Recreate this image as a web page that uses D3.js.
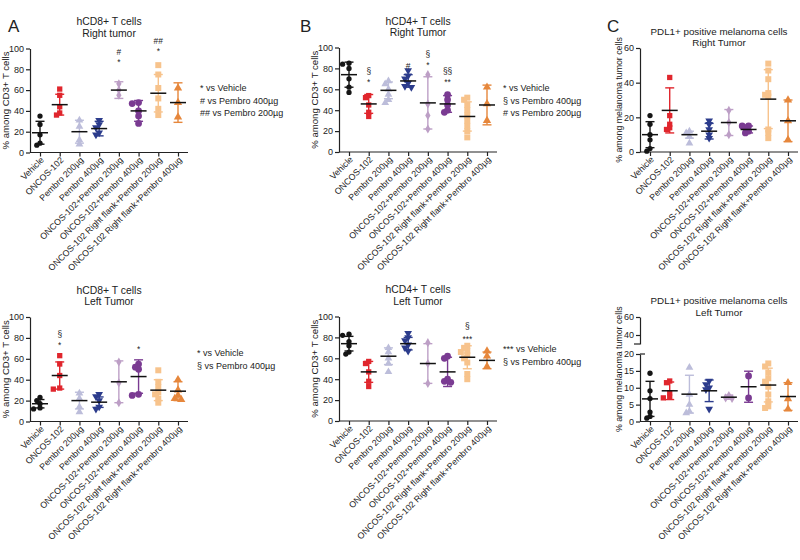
<!DOCTYPE html>
<html>
<head>
<meta charset="utf-8">
<script src="https://cdn.jsdelivr.net/npm/d3@7"></script>
<style>
  body { margin: 0; background: #fff; }
  text { font-family: "Liberation Sans", Arial, sans-serif; fill: #222; }
</style>
</head>
<body>
<svg id="fig" width="800" height="560"></svg>
<script>
// treatment groups, same order in every panel
var groups = ["Vehicle", "ONCOS-102", "Pembro 200µg", "Pembro 400µg",
  "ONCOS-102+Pembro 200µg", "ONCOS-102+Pembro 400µg",
  "ONCOS-102 Right flank+Pembro 200µg", "ONCOS-102 Right flank+Pembro 400µg"];

var groupColors = ["#151515", "#e0262d", "#bcbdda", "#2c3c8c", "#bd9fc6", "#7a3b92", "#f7c38c", "#e6873c"];

// hCD8+ right tumor
var cd8RightPts = [[35, 27, 17, 9, 7], [61, 55, 44, 38, 36], [31, 25, 12, 8], [31, 27, 24, 19, 17],
  [66, 60, 55], [48, 47, 40, 35, 28], [84, 75, 62, 52, 42, 36], [62, 48, 34]];
var cd8RightMean = [19, 46, 20, 23, 60, 40, 57, 48];
var cd8RightSd = [11, 10, 11, 7, 8, 10, 18, 19];
var cd8RightSig = [[4, "#", 97], [4, "*", 88.5], [6, "##", 108], [6, "*", 100]];
var cd8RightLegend = ["* vs Vehicle", "# vs Pembro 400µg", "## vs Pembro 200µg"];

// hCD8+ left tumor
var cd8LeftPts = [[23, 20, 17, 13, 12], [63, 55, 44, 32, 31], [27, 22, 14, 9], [26, 24, 20, 14, 12],
  [57, 37, 18], [55, 52, 50, 26, 25], [49, 38, 33, 28, 26, 22, 18], [40, 30, 25, 22, 21]];
var cd8LeftMean = [17, 44, 20, 18.5, 38, 43, 30, 29];
var cd8LeftSd = [4, 13, 8, 5, 20, 16, 10, 9];
var cd8LeftSig = [[1, "§", 84], [1, "*", 75], [5, "*", 71]];
var cd8LeftLegend = ["* vs Vehicle", "§ vs Pembro 400µg"];

// hCD4+ right tumor
var cd4RightPts = [[85, 84, 80, 70, 62, 57], [54, 52, 45, 38, 34], [68, 65, 60, 55, 50, 47],
  [78, 73, 70, 66, 63, 62], [74, 46, 35, 22], [55, 50, 45, 40, 38],
  [52, 50, 45, 40, 35, 30, 25, 20, 14], [62, 46, 30]];
var cd4RightMean = [74, 46, 59, 68, 47, 46, 34, 45];
var cd4RightSd = [12, 9, 8, 6, 25, 8, 14, 19];
var cd4RightSig = [[1, "§", 78], [1, "*", 69], [3, "#", 83], [4, "§", 94], [4, "*", 85], [5, "§§", 78], [5, "**", 69]];
var cd4RightLegend = ["* vs Vehicle", "§ vs Pembro 400µg", "# vs Pembro 200µg"];

// hCD4+ left tumor
var cd4LeftPts = [[83, 82, 76, 72, 66, 64], [57, 55, 47, 38, 33], [70, 66, 60, 55, 47],
  [84, 80, 77, 73, 70, 67], [75, 55, 36], [62, 60, 40, 38, 37],
  [72, 70, 67, 66, 63, 60, 56, 45, 40], [67, 62, 52]];
var cd4LeftMean = [74, 47, 62, 74, 55, 47, 61, 58];
var cd4LeftSd = [7, 10, 8, 6, 19, 14, 11, 8];
var cd4LeftSig = [[6, "§", 91], [6, "***", 80]];
var cd4LeftLegend = ["*** vs Vehicle", "§ vs Pembro 400µg"];

// PDL1+ melanoma cells right tumor
var pdlRightPts = [[21, 16, 10, 7, 2, 0.5], [43, 21, 16, 14, 13], [12, 11, 9, 5], [18, 16, 13, 10, 8],
  [24, 17, 10], [15, 15, 14, 12, 11], [51, 47, 42, 34, 33, 32, 13, 11, 8], [30, 18, 7]];
var pdlRightMean = [10, 24, 10, 12, 17, 13, 30.5, 18];
var pdlRightSd = [7.5, 13, 2, 4.5, 7.5, 2, 17, 12];

// PDL1+ melanoma cells left tumor
var pdlLeftPts = [[14.3, 9.1, 6.8, 2.8, 1.5, 1.0], [12, 11.5, 8.5, 7.2, 7], [16, 8, 5, 3, 2.5],
  [12, 11, 10, 9.5, 3.7], [7.7, 7, 6.8], [13.5, 7], [17.2, 16.3, 14.5, 12.8, 11.8, 10.3, 8, 6, 4.5, 4],
  [11.5, 6.7, 3.7]];
var pdlLeftMean = [6.7, 9.1, 8.1, 9.1, 7.2, 10.3, 10.8, 7.4];
var pdlLeftSd = [5.2, 2.6, 5.6, 3.2, 0.6, 4.6, 5, 4.1];

var cd3Ticks = [0, 20, 40, 60, 80, 100];
var pdlTicks = [0, 20, 40, 60];
var pdlLowTicks = [0, 5, 10, 15, 20];
var pdlHighTicks = [40, 60];

var shapes = [d3.symbolCircle, d3.symbolSquare, d3.symbolTriangle, d3.symbolTriangle,
  d3.symbolDiamond, d3.symbolCircle, d3.symbolSquare, d3.symbolTriangle];
var shapeSize = [22, 28, 26, 26, 24, 36, 36, 30];

var svg = d3.select("#fig");

var panels = [
  {x0: 30, yTop: 48.5, yBot: 152.5, max: 100, ticks: cd3Ticks, letter: "A", letterX: 8,
   title: ["hCD8+ T cells", "Right tumor"], titleY: 25, titleSize: 10.4, ylab: "% among CD3+ T cells", labOff: 21, labSize: 9.6,
   pts: cd8RightPts, mean: cd8RightMean, sd: cd8RightSd, sig: cd8RightSig,
   legend: cd8RightLegend, legX: 200, legY: 91},
  {x0: 30, yTop: 317, yBot: 421.5, max: 100, ticks: cd3Ticks,
   title: ["hCD8+ T cells", "Left Tumor"], titleY: 293.5, titleSize: 10.4, ylab: "% among CD3+ T cells", labOff: 21, labSize: 9.6,
   pts: cd8LeftPts, mean: cd8LeftMean, sd: cd8LeftSd, sig: cd8LeftSig,
   legend: cd8LeftLegend, legX: 197, legY: 356},
  {x0: 339, yTop: 47.5, yBot: 152, max: 100, ticks: cd3Ticks, letter: "B", letterX: 300,
   title: ["hCD4+ T cells", "Right Tumor"], titleY: 24.5, titleSize: 10.4, ylab: "% among CD3+ T cells", labOff: 21, labSize: 9.6,
   pts: cd4RightPts, mean: cd4RightMean, sd: cd4RightSd, sig: cd4RightSig,
   legend: cd4RightLegend, legX: 503, legY: 91},
  {x0: 339, yTop: 316.5, yBot: 421, max: 100, ticks: cd3Ticks,
   title: ["hCD4+ T cells", "Left Tumor"], titleY: 293, titleSize: 10.4, ylab: "% among CD3+ T cells", labOff: 21, labSize: 9.6,
   pts: cd4LeftPts, mean: cd4LeftMean, sd: cd4LeftSd, sig: cd4LeftSig,
   legend: cd4LeftLegend, legX: 503, legY: 352},
  {x0: 640, yTop: 48, yBot: 152, max: 60, ticks: pdlTicks, letter: "C", letterX: 607,
   title: ["PDL1+ positive melanoma cells", "Right Tumor"], titleY: 34.5, titleSize: 9.8, ylab: "% among melanoma tumor cells", labOff: 18, labSize: 8.8,
   pts: pdlRightPts, mean: pdlRightMean, sd: pdlRightSd, sig: [], legend: []},
  {x0: 640, yTop: 317, yBot: 421.5, max: 60, broken: true, letter: null,
   title: ["PDL1+ positive melanoma cells", "Left Tumor"], titleY: 304, titleSize: 9.8, ylab: "% among melanoma tumor cells", labOff: 18, labSize: 8.8,
   pts: pdlLeftPts, mean: pdlLeftMean, sd: pdlLeftSd, sig: [], legend: []}
];

function styleAxis(g) {
  g.selectAll("path, line").attr("stroke", "#222").attr("stroke-width", 1.2);
  g.selectAll("text").style("font-size", "9px").attr("fill", "#222");
}

// spread overlapping points sideways a little, GraphPad-like
function spread(vals, yf) {
  var placed = [];
  return vals.map(function(v) {
    var py = yf(v), offs = [0, -1, 1, -2, 2, -3, 3];
    for (var k = 0; k < offs.length; k++) {
      var dx = offs[k] * 3.2;
      var free = placed.every(function(q) { return Math.hypot(q[0] - dx, q[1] - py) >= 3.4; });
      if (free) { placed.push([dx, py]); return dx; }
    }
    placed.push([0, py]);
    return 0;
  });
}

function drawPanel(p) {
  var g = svg.append("g");
  var x = d3.scalePoint().domain(groups).range([p.x0 + 10, p.x0 + 148]);
  var y;

  if (!p.broken) {
    var ys = d3.scaleLinear().domain([0, p.max]).range([p.yBot, p.yTop]);
    y = ys;
    g.append("g")
      .attr("transform", "translate(" + p.x0 + ",0)")
      .call(d3.axisLeft(ys).tickValues(p.ticks).tickSize(4).tickSizeOuter(0).tickPadding(2))
      .call(styleAxis);
  } else {
    // broken axis: 0-20 below, 30-60 above
    var yLow = d3.scaleLinear().domain([0, 20]).range([p.yBot, 354]);
    var yHigh = d3.scaleLinear().domain([30, 60]).range([344, p.yTop]);
    y = function(v) { return v <= 20 ? yLow(v) : yHigh(v); };
    g.append("g")
      .attr("transform", "translate(" + p.x0 + ",0)")
      .call(d3.axisLeft(yLow).tickValues(pdlLowTicks).tickSize(4).tickSizeOuter(0).tickPadding(2))
      .call(styleAxis);
    g.append("g")
      .attr("transform", "translate(" + p.x0 + ",0)")
      .call(d3.axisLeft(yHigh).tickValues(pdlHighTicks).tickSize(4).tickSizeOuter(0).tickPadding(2))
      .call(styleAxis);
    g.append("line").attr("x1", p.x0 - 6).attr("x2", p.x0).attr("y1", 344).attr("y2", 344)
      .attr("stroke", "#222").attr("stroke-width", 1.2);
    g.append("line").attr("x1", p.x0).attr("x2", p.x0 + 5).attr("y1", 354).attr("y2", 354)
      .attr("stroke", "#222").attr("stroke-width", 1.2);
  }

  // x axis
  var xa = g.append("g")
    .attr("transform", "translate(0," + p.yBot + ")")
    .call(d3.axisBottom(x).tickSize(4).tickSizeOuter(0));
  xa.select(".domain").remove();
  xa.call(styleAxis);
  xa.selectAll("text")
    .attr("y", 0).attr("dy", 0)
    .attr("text-anchor", "end")
    .style("font-size", "8.8px")
    .attr("transform", "translate(4,8) rotate(-45)");
  g.append("line")
    .attr("x1", p.x0).attr("x2", p.x0 + 158)
    .attr("y1", p.yBot).attr("y2", p.yBot)
    .attr("stroke", "#222").attr("stroke-width", 1.2);

  // y label
  var yMid = (p.yTop + p.yBot) / 2;
  g.append("text")
    .attr("transform", "translate(" + (p.x0 - p.labOff) + "," + yMid + ") rotate(-90)")
    .attr("text-anchor", "middle")
    .style("font-size", p.labSize + "px")
    .text(p.ylab);

  // titles
  var cx = p.x0 + 79;
  p.title.forEach(function(t, i) {
    g.append("text").attr("x", cx).attr("y", p.titleY + i * 11.5)
      .attr("text-anchor", "middle").style("font-size", p.titleSize + "px").text(t);
  });
  if (p.letter) {
    g.append("text").attr("x", p.letterX).attr("y", 32)
      .style("font-size", "17px").text(p.letter);
  }

  // groups
  groups.forEach(function(name, i) {
    var gx = x(name), col = groupColors[i];
    var offs = spread(p.pts[i], y);
    var sym = d3.symbol().type(shapes[i]).size(shapeSize[i]);
    g.append("g").selectAll("path")
      .data(p.pts[i])
      .join("path")
      .attr("d", sym)
      .attr("fill", col)
      .attr("transform", function(d, k) {
        return "translate(" + (gx + offs[k]) + "," + y(d) + ")" + (i == 3 ? " rotate(180)" : "");
      });

    var lo = p.mean[i] - p.sd[i], hi = p.mean[i] + p.sd[i];
    var eb = g.append("g").attr("stroke", col).attr("stroke-width", 1.4);
    eb.append("line").attr("x1", gx).attr("x2", gx).attr("y1", y(lo)).attr("y2", y(hi));
    eb.append("line").attr("x1", gx - 4.5).attr("x2", gx + 4.5).attr("y1", y(lo)).attr("y2", y(lo));
    eb.append("line").attr("x1", gx - 4.5).attr("x2", gx + 4.5).attr("y1", y(hi)).attr("y2", y(hi));
    g.append("line")
      .attr("x1", gx - 8).attr("x2", gx + 8)
      .attr("y1", y(p.mean[i])).attr("y2", y(p.mean[i]))
      .attr("stroke", "#111").attr("stroke-width", 1.5);
  });

  // significance marks
  p.sig.forEach(function(s) {
    var isStar = s[1].charAt(0) == "*";
    g.append("text")
      .attr("x", x(groups[s[0]]))
      .attr("y", y(s[2]) + (isStar ? 5 : 3.5))
      .attr("text-anchor", "middle")
      .style("font-size", "8.4px")
      .text(s[1]);
  });

  // legend text
  p.legend.forEach(function(t, i) {
    g.append("text").attr("x", p.legX).attr("y", p.legY + i * 12.5)
      .style("font-size", "9px").text(t);
  });
}

panels.forEach(drawPanel);
</script>
</body>
</html>
